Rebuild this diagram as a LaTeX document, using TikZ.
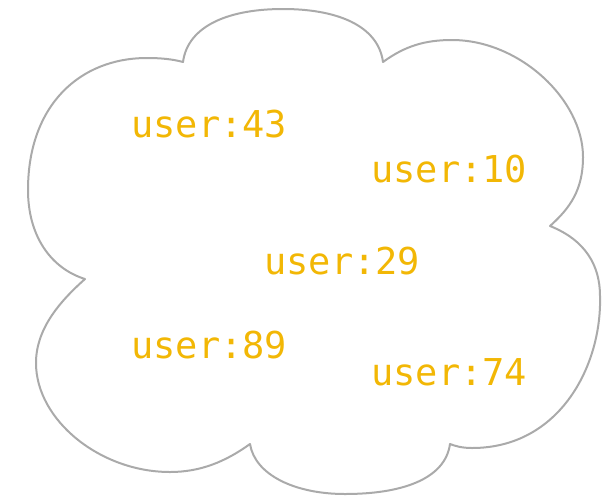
\documentclass[tikz,border=0pt]{standalone}
\usepackage{fontspec}
\newfontfamily\labelmono{DejaVu Sans Mono}
\definecolor{cloudgrey}{HTML}{AAAAAA}
\definecolor{keyyellow}{HTML}{F2B705}
\tikzset{
  cloudline/.style={draw=cloudgrey, line width=2pt, line join=round},
  userkey/.style={anchor=base west, inner sep=0pt, text=keyyellow,
    font=\labelmono\fontsize{37}{42}\selectfont}
}
\begin{document}
\begin{tikzpicture}[x=1pt, y=-1pt]
  \useasboundingbox (0,0) rectangle (615,496);
  % cloud outline, lobe by lobe, cusps at the joins
  \draw[cloudline]
    (183,62) .. controls (188,25) and (230,9) .. (283,9)
             .. controls (336,9) and (378,25) .. (383,62)
             .. controls (405,46) and (425,40) .. (452,40)
             .. controls (520,40) and (583,100) .. (583,157)
             .. controls (583,190) and (570,208) .. (550,226)
             .. controls (585,240) and (600,265) .. (600,296)
             .. controls (602,365) and (560,448) .. (472,448)
             .. controls (462,448) and (455,446) .. (450,444)
             .. controls (445,480) and (400,494) .. (345,494)
             .. controls (295,494) and (255,475) .. (250,444)
             .. controls (225,462) and (200,472) .. (170,472)
             .. controls (100,472) and (36,420) .. (36,363)
             .. controls (36,330) and (58,303) .. (85,279)
             .. controls (50,268) and (28,235) .. (28,190)
             .. controls (28,105) and (80,58) .. (147,58)
             .. controls (160,58) and (172,59) .. (183,62) -- cycle;
  % keys held in the store
  \node[userkey] (u43) at (131,137) {user:43};
  \node[userkey] (u10) at (371,182) {user:10};
  \node[userkey] (u29) at (264,274) {user:29};
  \node[userkey] (u89) at (131,358) {user:89};
  \node[userkey] (u74) at (371,385) {user:74};
\end{tikzpicture}
\end{document}
